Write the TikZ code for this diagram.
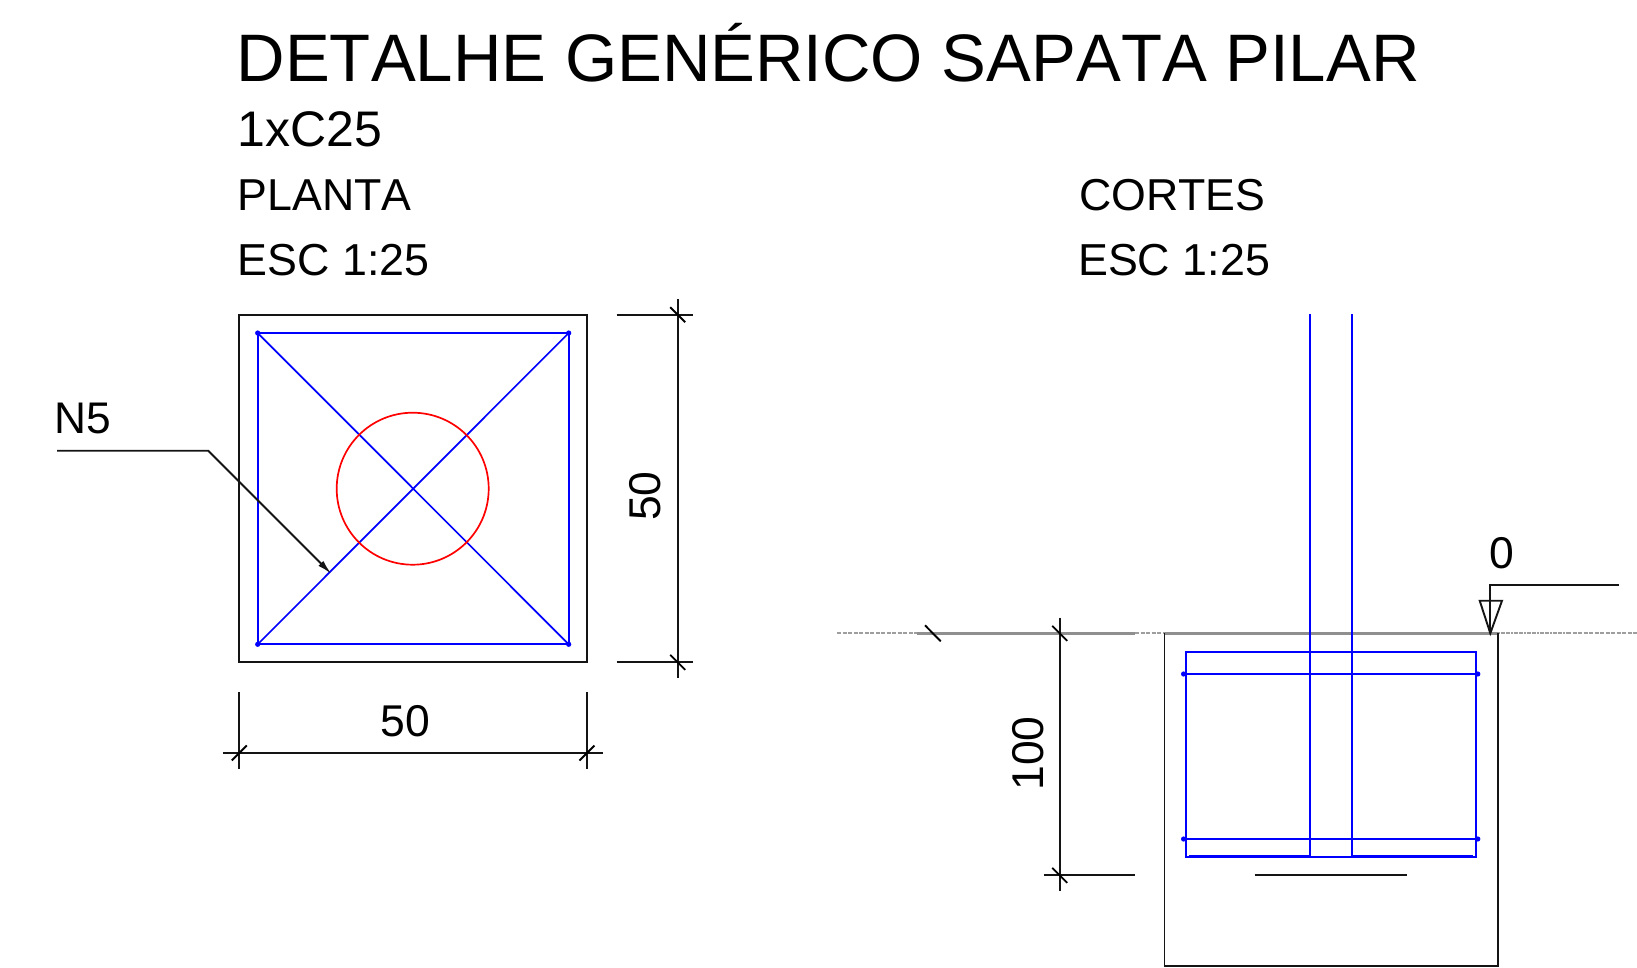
\documentclass[tikz,border=0pt]{standalone}
\usepackage{fontspec}
\setmainfont[Kerning=Off]{Liberation Sans}
\usetikzlibrary{arrows.meta}
\definecolor{cadblue}{RGB}{0,0,255}
\definecolor{cadred}{RGB}{255,0,0}
\newcommand{\fsz}[1]{\fontsize{#1}{#1}\selectfont}
\tikzset{
  x=1pt,y=-1pt,
  cad/.style={line width=1.9pt,black!92},
  reb/.style={line width=1.9pt,cadblue},
  lab/.style={inner sep=0pt,anchor=base west,text=black},
  dimtxt/.style={inner sep=0pt,text=black,font=\fsz{44.5}},
  tickmark/.style={line width=1.9pt,black},
  gndsolid/.style={line width=2.6pt,black!44},
  gnddash/.style={line width=1.9pt,black!38,dash pattern=on 4pt off 1.5pt},
  gnddot/.style={line width=2.1pt,black!38,dash pattern=on 2pt off 0.6pt},
  dotb/.style={fill=cadblue,draw=none}
}
\begin{document}
\begin{tikzpicture}
\useasboundingbox[fill=white] (0,0) rectangle (1637,967);
% titles
\node[lab,font=\fsz{67.15}] (title) at (236.5,81) {DETALHE GENÉRICO SAPATA PILAR};
\node[lab,font=\fsz{50}] (conc) at (237.5,146) {1xC25};
\node[lab,font=\fsz{44.7}] (planta) at (237.5,210.5) {PLANTA};
\node[lab,font=\fsz{44.8}] (esca) at (237.5,275.5) {ESC 1:25};
\node[lab,font=\fsz{44.7}] (cortes) at (1079,210.5) {CORTES};
\node[lab,font=\fsz{44.8}] (escb) at (1078,275.5) {ESC 1:25};
\node[lab,font=\fsz{44.3}] (nf) at (54,433.5) {N5};
% plan
\draw[cad] (239.3,314.7) rectangle (587,662.3);
\draw[reb] (257.7,333) rectangle (568.7,644.3);
\draw[reb,line width=1.7pt] (257.7,333) -- (568.7,644.3) (568.7,333) -- (257.7,644.3);
\foreach \p in {(257.7,333),(568.7,333),(257.7,644.3),(568.7,644.3)} \fill[dotb] \p circle (2.6);
\draw[cadred,line width=1.7pt] (412.7,488.7) circle (76);
% leader
\coordinate (ls) at (57,450.7);
\coordinate (lk) at (208.3,450.7);
\coordinate (lt) at (331.5,574);
\draw[cad,-{Latex[length=15pt,width=7pt]}] (ls) -- (lk) -- (lt);
% right dimension
\draw[cad] (616.7,314.7) -- (693.3,314.7) (616.7,662.3) -- (693.3,662.3) (677.7,299.3) -- (677.7,678.3);
\draw[tickmark] (670.2,307.2) -- (685.2,322.2) (670.2,654.8) -- (685.2,669.8);
\node[dimtxt,rotate=90] (d1) at (645.5,496) {50};
% bottom dimension
\draw[cad] (239.3,692.3) -- (239.3,769) (587,692.3) -- (587,769) (223.3,753) -- (602.7,753);
\draw[tickmark] (231.8,760.5) -- (246.8,745.5) (579.5,760.5) -- (594.5,745.5);
\node[dimtxt] (d2) at (405.6,721.5) {50};
% ground line
\draw[gnddash] (837.3,633.3) -- (917,633.3);
\draw[gndsolid] (917,633.3) -- (1135,633.3);
\draw[gnddash] (1135,633.3) -- (1165,633.3);
\draw[gndsolid] (1165,633.3) -- (1498,633.3);
\draw[gnddot] (1498,633.3) -- (1567,633.3);
\draw[gnddash] (1567,633.3) -- (1637,633.3);
\draw[tickmark] (925,625.3) -- (940.7,641.3);
% section footing
\draw[cad] (1164.5,633.3) -- (1164.5,966) -- (1497.7,966) -- (1497.7,633.3);
\draw[reb] (1185.7,651.7) rectangle (1476.1,856.7);
\draw[reb] (1310,314.3) -- (1310,856.7) (1351.8,314.3) -- (1351.8,856.7);
\draw[reb] (1183.6,674) -- (1477.8,674) (1183.6,839) -- (1477.8,839);
\foreach \p in {(1183.6,674),(1477.8,674),(1183.6,839),(1477.8,839)} \fill[dotb] \p circle (2.6);
\draw[reb] (1189,855.6) -- (1310,855.6) (1351.8,855.6) -- (1473,855.6);
\draw[cad] (1254.7,875.3) -- (1407,875.3);
% height dimension
\draw[cad] (1059.7,617.7) -- (1059.7,890.7) (1043.9,875.3) -- (1134.9,875.3);
\draw[tickmark] (1052.2,625.8) -- (1067.2,640.8) (1052.2,867.8) -- (1067.2,882.8);
\node[dimtxt,rotate=90] (d3) at (1028,753.5) {100};
% level marker
\coordinate (tip) at (1490.3,633.3);
\draw[cad,line join=miter] (tip) -- (1479.7,600.7) -- (1502,600.7) -- cycle;
\draw[cad] (tip) -- (1490.3,585.3) -- (1619.3,585.3);
\node[dimtxt] (lv) at (1501.5,553.3) {0};
\end{tikzpicture}
\end{document}
